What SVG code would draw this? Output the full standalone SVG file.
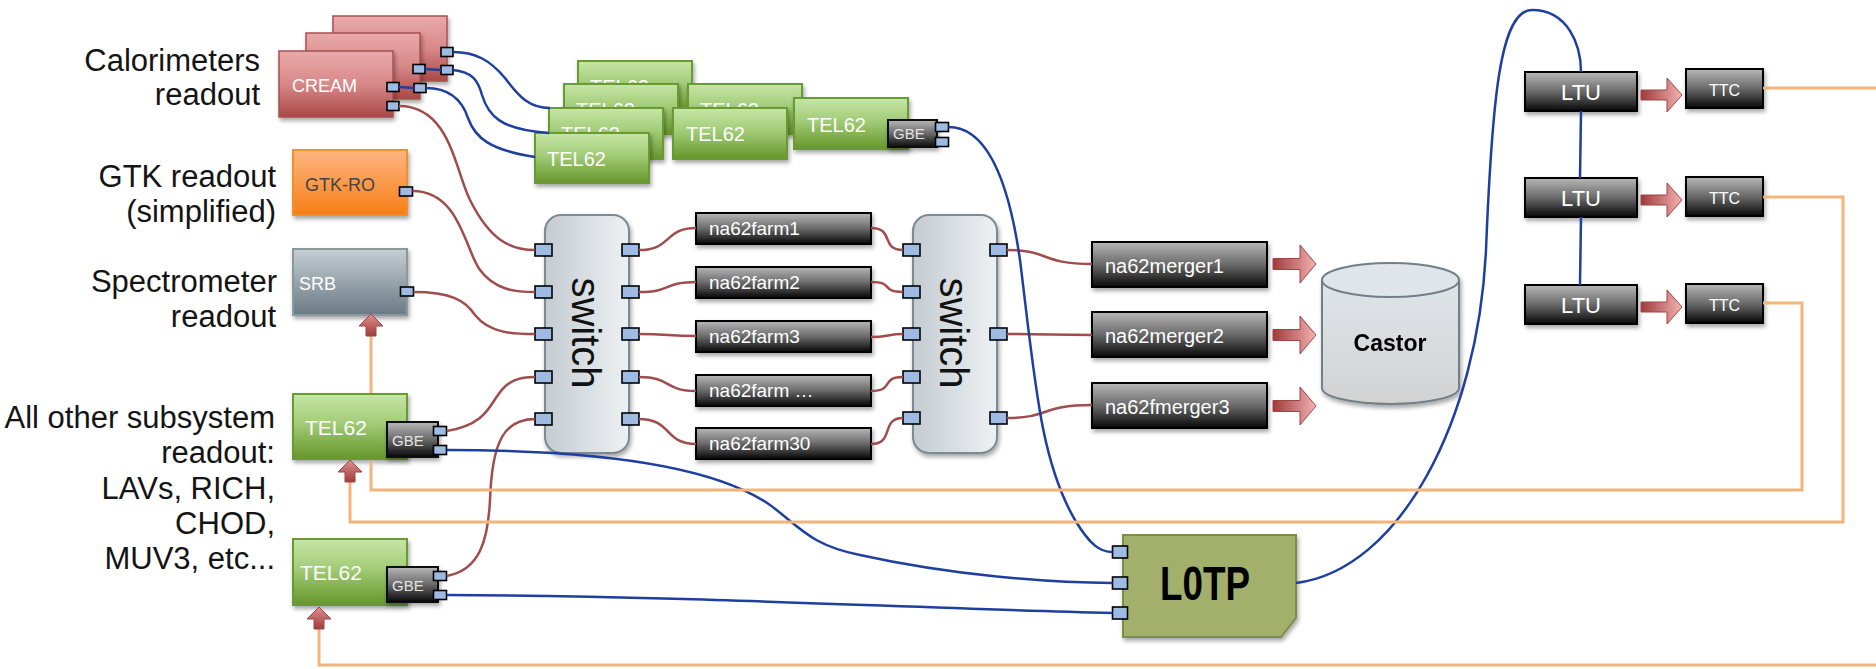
<svg xmlns="http://www.w3.org/2000/svg" width="1876" height="669" viewBox="0 0 1876 669">
<defs>
<style>
text{font-family:"Liberation Sans",Arial,sans-serif}
.lbl{font-size:31px;fill:#141414;text-anchor:end}
.wt{fill:#fff}
.port{fill:#9dbbe3;stroke:#000;stroke-width:1.6}
.cream{fill:url(#gCream);stroke:#a85050;stroke-width:1.5}
.tel{fill:url(#gTel);stroke:#6a9a30;stroke-width:2}
.dark{fill:url(#gDark);stroke:#000;stroke-width:2}
.gbe{fill:url(#gDark);stroke:#111;stroke-width:2}
.sw{fill:url(#gSw);stroke:#7a8a92;stroke-width:2}
.red{fill:none;stroke:#a04c4c;stroke-width:2.5}
.blue{fill:none;stroke:#1e3fa0;stroke-width:2.5}
.org{fill:none;stroke:#f2b47a;stroke-width:3}
.tel-t{font-size:20px;fill:#fff}
.farm-t{font-size:19px;fill:#fff}
.mrg-t{font-size:20px;fill:#fff}
.gbe-t{font-size:15px;fill:#e4e4e4}
.sw-t{font-size:40px;fill:#111;text-anchor:middle}
</style>
<linearGradient id="gCream" x1="0" y1="0" x2="0" y2="1"><stop offset="0" stop-color="#eaaaaa"/><stop offset="0.5" stop-color="#d88888"/><stop offset="1" stop-color="#aa4848"/></linearGradient>
<linearGradient id="gTel" x1="0" y1="0" x2="0" y2="1"><stop offset="0" stop-color="#c6e6a6"/><stop offset="0.45" stop-color="#a2cc78"/><stop offset="1" stop-color="#66962a"/></linearGradient>
<linearGradient id="gGtk" x1="0" y1="0" x2="0" y2="1"><stop offset="0" stop-color="#fdb681"/><stop offset="1" stop-color="#f77e16"/></linearGradient>
<linearGradient id="gSrb" x1="0" y1="0" x2="0" y2="1"><stop offset="0" stop-color="#c6ced4"/><stop offset="1" stop-color="#6a7a84"/></linearGradient>
<linearGradient id="gDark" x1="0" y1="0" x2="0" y2="1"><stop offset="0" stop-color="#b8b8b8"/><stop offset="0.5" stop-color="#6a6a6a"/><stop offset="1" stop-color="#080808"/></linearGradient>
<linearGradient id="gSw" x1="0" y1="0" x2="1" y2="0"><stop offset="0" stop-color="#c4ccd2"/><stop offset="1" stop-color="#eef1f3"/></linearGradient>
<linearGradient id="gCas" x1="0" y1="0" x2="0" y2="1"><stop offset="0" stop-color="#dfe5ea"/><stop offset="1" stop-color="#d2d2d2"/></linearGradient>
<linearGradient id="gArrR" x1="0" y1="0" x2="1" y2="0"><stop offset="0" stop-color="#a03a3a"/><stop offset="1" stop-color="#f2b2b2"/></linearGradient>
<linearGradient id="gArrU" x1="0" y1="0" x2="0" y2="1"><stop offset="0" stop-color="#e09090"/><stop offset="1" stop-color="#a03c3c"/></linearGradient>
<filter id="sh" x="-10%" y="-15%" width="125%" height="145%"><feDropShadow dx="1.5" dy="3" stdDeviation="2" flood-color="#000" flood-opacity="0.35"/></filter>
<path id="arrR" d="M0,-5.5 L27,-5.5 L27,-19 L43,0 L27,19 L27,5.5 L0,5.5 Z" fill="url(#gArrR)" stroke="#a04444" stroke-width="1"/>
<path id="arrRs" d="M0,-5 L26,-5 L26,-17 L41,0 L26,17 L26,5 L0,5 Z" fill="url(#gArrR)" stroke="#a04444" stroke-width="1"/>
<path id="arrU" d="M0,0 L12,12 L5,12 L5,22 L-5,22 L-5,12 L-12,12 Z" fill="url(#gArrU)" stroke="#a04444" stroke-width="1"/>
</defs>

<rect width="1876" height="669" fill="#fff"/>

<!-- left-hand descriptions -->
<g id="labels">
<text class="lbl" x="260" y="71">Calorimeters</text>
<text class="lbl" x="260" y="105">readout</text>
<text class="lbl" x="276" y="187">GTK readout</text>
<text class="lbl" x="276" y="222">(simplified)</text>
<text class="lbl" x="277" y="292">Spectrometer</text>
<text class="lbl" x="276" y="327">readout</text>
<text class="lbl" x="275" y="428">All other subsystem</text>
<text class="lbl" x="275" y="463">readout:</text>
<text class="lbl" x="275" y="499">LAVs, RICH,</text>
<text class="lbl" x="275" y="534">CHOD,</text>
<text class="lbl" x="275" y="569">MUV3, etc...</text>
</g>

<!-- calorimeter readout boards -->
<g id="cream-3">
<rect x="333" y="16" width="114" height="65" class="cream" filter="url(#sh)"/>
<rect x="441" y="47.5" width="12" height="9" class="port"/>
<rect x="441" y="65.5" width="12" height="9" class="port"/>
</g>
<g id="cream-2">
<rect x="306" y="33" width="114" height="66" class="cream" filter="url(#sh)"/>
<rect x="413" y="64.5" width="12" height="9" class="port"/>
<rect x="414" y="83.5" width="12" height="9" class="port"/>
</g>
<g id="cream-1">
<rect x="279" y="51" width="114" height="66" class="cream" filter="url(#sh)"/>
<text x="292" y="92" font-size="18" class="wt">CREAM</text>
<rect x="387" y="82.5" width="12" height="9" class="port"/>
<rect x="387" y="101.5" width="12" height="9" class="port"/>
</g>

<!-- calorimeter TEL62 stack -->
<g id="tel62-s1"><rect x="578" y="61" width="114" height="50" class="tel" filter="url(#sh)"/><text x="590" y="94" class="tel-t">TEL62</text></g>
<g id="tel62-s2"><rect x="564" y="84" width="114" height="50" class="tel" filter="url(#sh)"/><text x="576" y="117" class="tel-t">TEL62</text></g>
<g id="tel62-s5"><rect x="688" y="84" width="114" height="50" class="tel" filter="url(#sh)"/><text x="700" y="117" class="tel-t">TEL62</text></g>
<g id="tel62-s3"><rect x="549" y="108" width="114" height="51" class="tel" filter="url(#sh)"/><text x="561" y="141" class="tel-t">TEL62</text></g>
<g id="tel62-s6"><rect x="673" y="108" width="114" height="51" class="tel" filter="url(#sh)"/><text x="686" y="141" class="tel-t">TEL62</text></g>
<g id="tel62-s4"><rect x="535" y="133" width="114" height="50" class="tel" filter="url(#sh)"/><text x="547" y="166" class="tel-t">TEL62</text></g>
<g id="tel62-s7">
<rect x="794" y="98" width="114" height="51" class="tel" filter="url(#sh)"/><text x="807" y="132" class="tel-t">TEL62</text>
<rect x="888" y="120" width="49" height="27" class="gbe" filter="url(#sh)"/><text x="893" y="139" class="gbe-t">GBE</text>
<rect x="935.5" y="122.5" width="13" height="9" class="port"/>
<rect x="935.5" y="137.5" width="13" height="9" class="port"/>
</g>

<!-- GTK and spectrometer readout -->
<g id="gtk-ro">
<rect x="293" y="150" width="114" height="65" fill="url(#gGtk)" stroke="#f0902c" stroke-width="2" filter="url(#sh)"/>
<text x="305" y="191" font-size="18" fill="#444">GTK-RO</text>
<rect x="399.5" y="187" width="13" height="9" class="port"/>
</g>
<g id="srb">
<rect x="293" y="249" width="114" height="66" fill="url(#gSrb)" stroke="#8a98a0" stroke-width="2" filter="url(#sh)"/>
<text x="299" y="290" font-size="18" class="wt">SRB</text>
<rect x="400.5" y="287" width="13" height="9" class="port"/>
</g>

<!-- other subsystem TEL62 boards -->
<g id="tel62-a">
<rect x="293" y="394" width="114" height="65" class="tel" filter="url(#sh)"/>
<text x="305" y="435" font-size="21" class="wt">TEL62</text>
<rect x="387" y="422" width="51" height="35" class="gbe" filter="url(#sh)"/>
<text x="392" y="446" class="gbe-t">GBE</text>
<rect x="433.5" y="426.5" width="13" height="9" class="port"/>
<rect x="433.5" y="445.5" width="13" height="9" class="port"/>
</g>
<g id="tel62-b">
<rect x="293" y="539" width="114" height="66" class="tel" filter="url(#sh)"/>
<text x="300" y="580" font-size="21" class="wt">TEL62</text>
<rect x="387" y="567" width="51" height="35" class="gbe" filter="url(#sh)"/>
<text x="392" y="591" class="gbe-t">GBE</text>
<rect x="433.5" y="571.5" width="13" height="9" class="port"/>
<rect x="433.5" y="590.5" width="13" height="9" class="port"/>
</g>

<!-- first switch -->
<g id="switch-1">
<rect x="545" y="215" width="84" height="238" rx="16" class="sw" filter="url(#sh)"/>
<text class="sw-t" transform="translate(572,333) rotate(90)">switch</text>
<rect x="535" y="244" width="17" height="12" class="port"/>
<rect x="535" y="286" width="17" height="12" class="port"/>
<rect x="535" y="328" width="17" height="12" class="port"/>
<rect x="535" y="371" width="17" height="12" class="port"/>
<rect x="535" y="413" width="17" height="12" class="port"/>
<rect x="622" y="244" width="17" height="12" class="port"/>
<rect x="622" y="286" width="17" height="12" class="port"/>
<rect x="622" y="328" width="17" height="12" class="port"/>
<rect x="622" y="371" width="17" height="12" class="port"/>
<rect x="622" y="413" width="17" height="12" class="port"/>
</g>

<!-- farm PCs -->
<g id="farm-1"><rect x="696" y="213" width="175" height="31" class="dark" filter="url(#sh)"/><text x="709" y="235" class="farm-t">na62farm1</text></g>
<g id="farm-2"><rect x="696" y="267" width="175" height="31" class="dark" filter="url(#sh)"/><text x="709" y="289" class="farm-t">na62farm2</text></g>
<g id="farm-3"><rect x="696" y="321" width="175" height="31" class="dark" filter="url(#sh)"/><text x="709" y="343" class="farm-t">na62farm3</text></g>
<g id="farm-n"><rect x="696" y="375" width="175" height="31" class="dark" filter="url(#sh)"/><text x="709" y="397" class="farm-t">na62farm …</text></g>
<g id="farm-30"><rect x="696" y="428" width="175" height="31" class="dark" filter="url(#sh)"/><text x="709" y="450" class="farm-t">na62farm30</text></g>

<!-- second switch -->
<g id="switch-2">
<rect x="913" y="215" width="84" height="238" rx="16" class="sw" filter="url(#sh)"/>
<text class="sw-t" transform="translate(940,333) rotate(90)">switch</text>
<rect x="903" y="244" width="17" height="12" class="port"/>
<rect x="903" y="286" width="17" height="12" class="port"/>
<rect x="903" y="328" width="17" height="12" class="port"/>
<rect x="903" y="371" width="17" height="12" class="port"/>
<rect x="903" y="412" width="17" height="12" class="port"/>
<rect x="990" y="244" width="17" height="12" class="port"/>
<rect x="990" y="328" width="17" height="12" class="port"/>
<rect x="990" y="412" width="17" height="12" class="port"/>
</g>

<!-- mergers -->
<g id="merger-1"><rect x="1092" y="242" width="175" height="45" class="dark" filter="url(#sh)"/><text x="1105" y="273" class="mrg-t">na62merger1</text><use href="#arrR" x="1273" y="264"/></g>
<g id="merger-2"><rect x="1092" y="312" width="175" height="45" class="dark" filter="url(#sh)"/><text x="1105" y="343" class="mrg-t">na62merger2</text><use href="#arrR" x="1273" y="335"/></g>
<g id="merger-3"><rect x="1092" y="383" width="175" height="45" class="dark" filter="url(#sh)"/><text x="1105" y="414" class="mrg-t">na62fmerger3</text><use href="#arrR" x="1273" y="406"/></g>

<!-- storage -->
<g id="castor" filter="url(#sh)">
<path d="M1322,280 L1322,388 A68.5,16 0 0 0 1459,388 L1459,280 Z" fill="url(#gCas)" stroke="#708088" stroke-width="2"/>
<ellipse cx="1390.5" cy="280" rx="68.5" ry="17" fill="#dfe5ea" stroke="#708088" stroke-width="2"/>
<text x="1390" y="351" font-size="23" font-weight="bold" text-anchor="middle" fill="#000">Castor</text>
</g>

<!-- L0 trigger processor -->
<g id="l0tp">
<path d="M1123,535 L1296,535 L1296,618 L1281,637 L1123,637 Z" fill="#a2b06c" stroke="#7c8c4c" stroke-width="2" filter="url(#sh)"/>
<text x="1160" y="600" font-size="48" font-weight="bold" fill="#000" textLength="90" lengthAdjust="spacingAndGlyphs">L0TP</text>
<rect x="1112.5" y="546" width="15" height="12" class="port"/>
<rect x="1112.5" y="577" width="15" height="12" class="port"/>
<rect x="1112.5" y="607" width="15" height="12" class="port"/>
</g>

<!-- timing units -->
<g id="ltu-1"><rect x="1525" y="72" width="112" height="39" class="dark" filter="url(#sh)"/><text x="1581" y="100" font-size="22" text-anchor="middle" class="wt">LTU</text><use href="#arrRs" x="1641" y="95"/></g>
<g id="ltu-2"><rect x="1525" y="178" width="112" height="39" class="dark" filter="url(#sh)"/><text x="1581" y="206" font-size="22" text-anchor="middle" class="wt">LTU</text><use href="#arrRs" x="1641" y="200"/></g>
<g id="ltu-3"><rect x="1525" y="285" width="112" height="39" class="dark" filter="url(#sh)"/><text x="1581" y="313" font-size="22" text-anchor="middle" class="wt">LTU</text><use href="#arrRs" x="1641" y="307"/></g>
<g id="ttc-1"><rect x="1686" y="69" width="77" height="39" class="dark" filter="url(#sh)"/><text x="1724.5" y="96" font-size="16" text-anchor="middle" class="wt">TTC</text></g>
<g id="ttc-2"><rect x="1686" y="177" width="77" height="39" class="dark" filter="url(#sh)"/><text x="1724.5" y="204" font-size="16" text-anchor="middle" class="wt">TTC</text></g>
<g id="ttc-3"><rect x="1686" y="284" width="77" height="39" class="dark" filter="url(#sh)"/><text x="1724.5" y="311" font-size="16" text-anchor="middle" class="wt">TTC</text></g>

<!-- connectors -->
<g id="connectors">
<!-- data links to the first switch -->
<path class="red" d="M399,106 C450,106 455,170 470,200 C490,240 510,250 535,250"/>
<path class="red" d="M412.5,191 C460,191 465,250 480,270 C495,290 515,292 535,292"/>
<path class="red" d="M413.5,292 C450,292 465,300 475,315 C490,334 515,334 535,334"/>
<path class="red" d="M446.5,431 C485,425 490,405 498,395 C508,380 520,377 535,377"/>
<path class="red" d="M446.5,576 C480,570 488,540 490,500 C492,440 505,419 535,419"/>
<!-- switch to farm -->
<path class="red" d="M639,250 C672,250 664,228 696,228"/>
<path class="red" d="M639,292 C672,292 664,282 696,282"/>
<path class="red" d="M639,334 C668,334 668,336 696,336"/>
<path class="red" d="M639,377 C672,377 664,391 696,391"/>
<path class="red" d="M639,419 C672,419 664,444 696,444"/>
<!-- farm to switch -->
<path class="red" d="M871,228 C895,228 880,250 903,250"/>
<path class="red" d="M871,282 C895,282 880,292 903,292"/>
<path class="red" d="M871,337 C888,337 888,334 903,334"/>
<path class="red" d="M871,391 C895,391 880,377 903,377"/>
<path class="red" d="M871,444 C895,444 880,418 903,418"/>
<!-- switch to mergers -->
<path class="red" d="M1007,250 C1050,250 1040,264 1092,264"/>
<path class="red" d="M1007,334 C1050,334 1050,335 1092,335"/>
<path class="red" d="M1007,418 C1050,418 1040,405 1092,405"/>
<!-- trigger primitives -->
<path class="blue" d="M453,52 C475,52 490,60 505,78 C520,98 530,108 550,108"/>
<path class="blue" d="M425,69 L441,70"/>
<path class="blue" d="M453,70 C472,72 478,80 482,95 C488,115 500,130 549,133"/>
<path class="blue" d="M399,87 L414,88"/>
<path class="blue" d="M426,88 C450,88 462,100 468,118 C475,138 490,150 535,157"/>
<path class="blue" d="M948.5,127 C990,127 1010,190 1020,260 C1035,380 1040,460 1075,520 C1090,545 1100,552 1112.5,552"/>
<path class="blue" d="M446.5,450 C620,450 720,470 770,505 C800,527 810,545 860,555 C950,575 1050,583 1112.5,583"/>
<path class="blue" d="M446.5,595 C700,596 900,608 1112.5,613"/>
<path class="blue" d="M1296,583 C1400,570 1478,420 1486,250 C1492,100 1500,10 1532,10 C1568,10 1581,45 1581,72"/>
<path class="blue" d="M1581,111 L1580,178"/>
<path class="blue" d="M1581,217 L1580,285"/>
<!-- timing distribution -->
<path class="org" d="M1763,88 L1880,88"/>
<path class="org" d="M1763,197 L1843,197 L1843,522 L350,522 L350,482"/>
<path class="org" d="M1763,303 L1802,303 L1802,490 L371,490 L371,461"/>
<path class="org" d="M371,393 L371,336"/>
<path class="org" d="M1880,665 L319,665 L319,629"/>
<use href="#arrU" x="371" y="314"/>
<use href="#arrU" x="350" y="460"/>
<use href="#arrU" x="319" y="607"/>
</g>
</svg>
